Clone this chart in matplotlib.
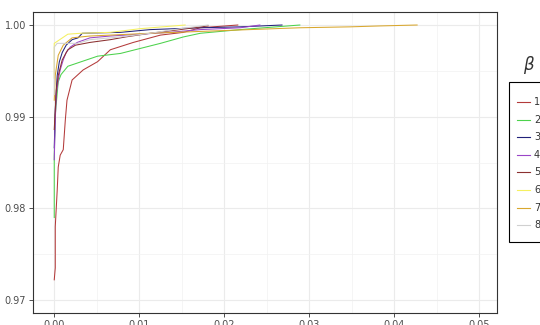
import matplotlib
matplotlib.use("Agg")
import matplotlib.pyplot as plt
from matplotlib.lines import Line2D
from matplotlib.patches import Rectangle
from matplotlib.ticker import MultipleLocator, FormatStrFormatter

# series data (x = false positive share, y = share kept)
x1 = [0, 0.00012, 0.00012, 0.00035, 0.00047, 0.0007, 0.00106, 0.0013, 0.0015, 0.0021,
      0.0034, 0.0051, 0.0066, 0.0093, 0.0125, 0.0152, 0.0172, 0.0216]
y1 = [0.9722, 0.9735, 0.978, 0.982, 0.9845, 0.9858, 0.9864, 0.9896, 0.9918, 0.994,
      0.9951, 0.996, 0.9973, 0.9981, 0.9989, 0.9992, 0.9997, 1.0]

x2 = [0, 0, 0.00012, 0.00047, 0.0008, 0.0016, 0.0051, 0.0078, 0.0125, 0.0152,
      0.0172, 0.0219, 0.0289]
y2 = [0.979, 0.9858, 0.9902, 0.9938, 0.9946, 0.9955, 0.9966, 0.9969, 0.998, 0.9987,
      0.9991, 0.9995, 1.0]

x3 = [0, 0.00012, 0.00024, 0.00035, 0.0006, 0.00094, 0.0014, 0.0021, 0.0028, 0.0033,
      0.0078, 0.0113, 0.0172, 0.0219, 0.0268]
y3 = [0.9866, 0.9907, 0.9929, 0.9945, 0.996, 0.997, 0.9978, 0.9984, 0.9986, 0.9991,
      0.9992, 0.9995, 0.9997, 0.9998, 1.0]

x4 = [0, 0.00012, 0.00024, 0.00047, 0.0007, 0.00106, 0.0014, 0.0019, 0.0027, 0.0042,
      0.0066, 0.0101, 0.0136, 0.0172, 0.0219, 0.0242]
y4 = [0.9853, 0.9896, 0.9924, 0.994, 0.9951, 0.9962, 0.997, 0.9976, 0.9981, 0.9986,
      0.9988, 0.999, 0.9992, 0.9995, 0.9997, 1.0]

x5 = [0, 0.00024, 0.00047, 0.00094, 0.0016, 0.0025, 0.0042, 0.0066, 0.0084, 0.0113,
      0.0148, 0.0181]
y5 = [0.9886, 0.9929, 0.9945, 0.9962, 0.9973, 0.9978, 0.9981, 0.9984, 0.9987, 0.9991,
      0.9995, 0.9999]

x6 = [0, 0, 0.0016, 0.0031, 0.0066, 0.0101, 0.0154]
y6 = [0.9942, 0.998, 0.999, 0.9991, 0.9992, 0.9996, 1.0]

x7 = [0, 0.00012, 0.00047, 0.00106, 0.0021, 0.0042, 0.0066, 0.0113, 0.0172, 0.023,
      0.0289, 0.0348, 0.0383, 0.0427]
y7 = [0.9918, 0.9945, 0.9967, 0.9978, 0.9986, 0.9988, 0.9989, 0.9991, 0.9993, 0.9995,
      0.9997, 0.9998, 0.9999, 1.0]

x8 = [0, 0, 0.00035, 0.0028, 0.0042, 0.0078, 0.0113, 0.0148, 0.0181]
y8 = [0.9924, 0.9976, 0.998, 0.998, 0.9984, 0.9987, 0.9991, 0.9996, 1.0]

labels = ["1", "2", "3", "4", "5", "6", "7", "8"]
colors = ["#B33A3A", "#4CD24C", "#22227A", "#9A45C8", "#8B3030", "#F5F060", "#D9A72E", "#D0D0D0"]
xs = [x1, x2, x3, x4, x5, x6, x7, x8]
ys = [y1, y2, y3, y4, y5, y6, y7, y8]

W, H = 540, 325
fig = plt.figure(figsize=(W / 100, H / 100), dpi=100)
ax = fig.add_axes([33 / W, 1 - 313 / H, 464 / W, 301 / H])

for x, y, c in zip(xs, ys, colors):
    ax.plot(x, y, color=c, lw=0.75)

ax.set_xlim(-0.0025, 0.0521)
ax.set_ylim(0.96858, 1.00142)
ax.xaxis.set_major_locator(MultipleLocator(0.01))
ax.xaxis.set_minor_locator(MultipleLocator(0.005))
ax.yaxis.set_major_locator(MultipleLocator(0.01))
ax.yaxis.set_minor_locator(MultipleLocator(0.005))
ax.xaxis.set_major_formatter(FormatStrFormatter("%.2f"))
ax.yaxis.set_major_formatter(FormatStrFormatter("%.2f"))

ax.grid(which="major", color="#EBEBEB", lw=0.8)
ax.grid(which="minor", color="#F2F2F2", lw=0.5)
ax.set_axisbelow(True)
for s in ax.spines.values():
    s.set_color("#333333")
    s.set_linewidth(0.8)
ax.tick_params(which="major", length=3, width=0.6, color="#333333",
               labelsize=7, labelcolor="#4D4D4D", pad=2)
ax.tick_params(which="minor", length=0)

# legend drawn by hand so it can run off the right edge like the original
fig.patches.append(Rectangle((509 / W, 1 - 242 / H), 40 / W, 160 / H,
                             transform=fig.transFigure, facecolor="white",
                             edgecolor="black", lw=0.8))
for i, (lab, c) in enumerate(zip(labels, colors)):
    yy = 1 - (102 + 17.6 * i) / H
    fig.lines.append(Line2D([517 / W, 530 / W], [yy, yy], transform=fig.transFigure,
                            color=c, lw=0.8))
    fig.text(534 / W, yy, lab, fontsize=7, color="#333333", ha="left", va="center")

fig.text(529 / W, 1 - 65 / H, r"$\beta$", fontsize=12, ha="center", va="center",
         color="#333333")

fig.savefig("out.png", dpi=100)
